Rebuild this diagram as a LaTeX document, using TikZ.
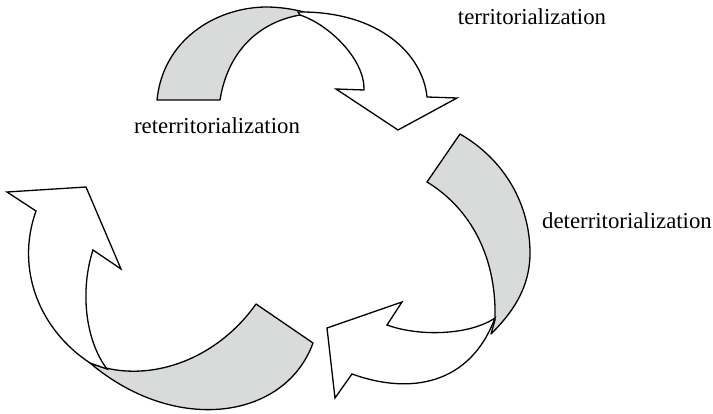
\documentclass[tikz,border=0pt]{standalone}
\usepackage{fontspec}
\setmainfont{Liberation Serif}
\begin{document}
\begin{tikzpicture}[x=1pt,y=-1pt,
  band/.style={fill=bandgray,draw=black,line width=1.3pt,line join=round},
  arrowbody/.style={fill=white,draw=black,line width=1.3pt,line join=miter},
  lbl/.style={font=\fontsize{22.8}{27}\selectfont,inner sep=0pt}]
\definecolor{bandgray}{HTML}{D9DBDB}
\useasboundingbox (0,0) rectangle (713,414);
% ---- top arrow ----
\path[band] (157,100) .. controls (163,40) and (215,8) .. (265,7)
  .. controls (280,7) and (292,9) .. (304,12)
  -- (300,15) .. controls (260,22) and (228,50) .. (220,100) -- cycle;
\path[arrowbody] (298,12) .. controls (380,11) and (423,55) .. (427,97)
  -- (457,98) -- (398,130) -- (336,89) -- (364,90)
  .. controls (365,60) and (330,25) .. (300,15) -- cycle;
% ---- right arrow ----
\path[band] (460,134) -- (427,182)
  .. controls (465,205) and (497,250) .. (495,320)
  -- (491,334) .. controls (510,315) and (530,290) .. (530,253)
  .. controls (530,205) and (505,160) .. (460,134) -- cycle;
\path[arrowbody] (495,318) .. controls (470,335) and (420,337) .. (387,325)
  -- (402,302) -- (327,328) -- (335,398) -- (352,374)
  .. controls (410,395) and (470,385) .. (495,318) -- cycle;
% ---- left arrow ----
\path[band] (90,363) .. controls (145,385) and (215,362) .. (256,304)
  -- (313,343)
  .. controls (285,420) and (175,435) .. (90,363) -- cycle;
\path[arrowbody] (7,192) -- (86,187) -- (121,269) -- (93,250)
  .. controls (80,290) and (85,340) .. (107,369)
  -- (90,363)
  .. controls (40,330) and (15,270) .. (36,211) -- cycle;
% ---- labels ----
\node[lbl] (terr) at (532,17) {territorialization};
\node[lbl] (reterr) at (217,126) {reterritorialization};
\node[lbl] (deterr) at (627,221) {deterritorialization};
\end{tikzpicture}
\end{document}
